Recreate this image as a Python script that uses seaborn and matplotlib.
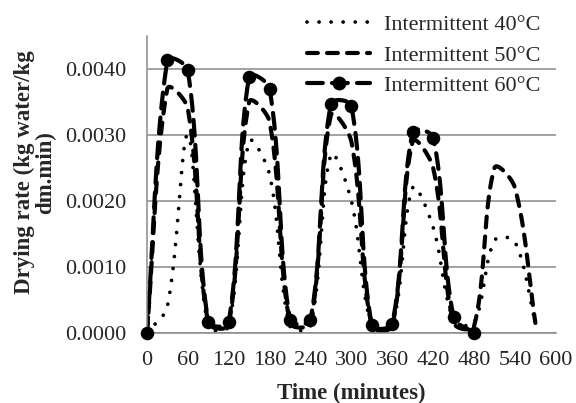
import numpy as np
import pandas as pd
import matplotlib
matplotlib.use("Agg")
import matplotlib.pyplot as plt
import seaborn as sns
from matplotlib.lines import Line2D
from matplotlib.ticker import FormatStrFormatter, MultipleLocator

# ---------------- data ----------------
time_40_50 = [0, 30, 60, 90, 120, 150, 180, 210, 240, 270, 300, 330, 360,
              390, 420, 450, 480, 510, 540, 570]
time_60 = [0, 30, 60, 90, 120, 150, 180, 210, 240, 270, 300, 330, 360,
           390, 420, 450, 480]

rate_40 = [0.0, 0.0004, 0.0030, 0.0001, 0.0001, 0.0029, 0.0024, 0.0001, 0.0001,
           0.0027, 0.0020, 0.0001, 0.0001, 0.0022, 0.0016, 0.0002, 0.00015,
           0.0014, 0.00138, 0.00015]
rate_50 = [0.0, 0.0037, 0.0034, 0.00015, 0.00012, 0.0035, 0.0032, 0.00015,
           0.00015, 0.0033, 0.0029, 0.0001, 0.0001, 0.0029, 0.0025, 0.00015,
           0.0001, 0.0025, 0.0022, 0.00015]
rate_60 = [0.0, 0.00413, 0.00398, 0.00017, 0.00016, 0.00388, 0.0037, 0.0002,
           0.0002, 0.00347, 0.00344, 0.00012, 0.00014, 0.00304, 0.00296,
           0.00024, 0.0]

labels = ["Intermittent 40°C", "Intermittent 50°C", "Intermittent 60°C"]
x_ticks = list(range(0, 601, 60))

XS, YS = 0.682, 66250.0   # approx. pixels per data unit (for smoothing shape)


def smooth(x, y, n=40, tension=1 / 3):
    """Excel-style smoothed line: Bezier through points, chord-scaled."""
    P = np.column_stack([np.asarray(x, float) * XS, np.asarray(y, float) * YS])
    Q = np.vstack([P[0], P, P[-1]])
    out = []
    m = len(P) - 1
    for i in range(m):
        p0, p1, p2, p3 = Q[i], Q[i + 1], Q[i + 2], Q[i + 3]
        d01 = np.linalg.norm(p1 - p0)
        d12 = np.linalg.norm(p2 - p1)
        d23 = np.linalg.norm(p3 - p2)
        c1 = p1 + tension * (p2 - p0) * (d12 / (d01 + d12) if d01 + d12 > 0 else 0)
        c2 = p2 - tension * (p3 - p1) * (d12 / (d12 + d23) if d12 + d23 > 0 else 0)
        t = np.linspace(0, 1, n, endpoint=(i == m - 1))[:, None]
        seg = ((1 - t) ** 3) * p1 + 3 * ((1 - t) ** 2) * t * c1 + \
            3 * (1 - t) * t ** 2 * c2 + t ** 3 * p2
        out.append(seg)
    out = np.vstack(out)
    return out[:, 0] / XS, out[:, 1] / YS


sns.set_style("white")
plt.rcParams['font.family'] = ['Liberation Serif', 'DejaVu Serif']

fig = plt.figure(figsize=(5.76, 4.03), dpi=100)
ax = fig.add_axes([0.255, 0.174, 0.71, 0.737])

grey = '#898989'
ax.set_xlim(0, 600)
ax.set_ylim(0, 0.0045)
ax.yaxis.set_major_locator(MultipleLocator(0.001))
ax.yaxis.set_major_formatter(FormatStrFormatter('%.4f'))
ax.set_xticks(x_ticks)
ax.grid(axis='y', color=grey, linewidth=1.1)
ax.grid(axis='x', visible=False)
ax.set_axisbelow(True)
for s in ['top', 'right']:
    ax.spines[s].set_visible(False)
for s in ['left', 'bottom']:
    ax.spines[s].set_color(grey)
    ax.spines[s].set_linewidth(1.1)
ax.tick_params(axis='x', direction='inout', length=8, width=1.1, color=grey,
               labelsize=16, pad=9)
ax.tick_params(axis='y', direction='out', length=4, width=1.1, color=grey,
               labelsize=16, pad=11)

dot_ls = (0, (0.01, 3.2))
dash_ls = (0, (2.6, 2.2))
long_ls = (0, (3.8, 2.2))

x40, y40 = smooth(time_40_50, rate_40)
x50, y50 = smooth(time_40_50, rate_50)
x60, y60 = smooth(time_60, rate_60)

sns.lineplot(x=x40, y=y40, ax=ax, color='black', linewidth=2.7,
             linestyle=dot_ls, dash_capstyle='round', estimator=None, sort=False)
sns.lineplot(x=x50, y=y50, ax=ax, color='black', linewidth=3.0,
             linestyle=dash_ls, dash_capstyle='round', estimator=None, sort=False)
sns.lineplot(x=x60, y=y60, ax=ax, color='black', linewidth=3.0,
             linestyle=long_ls, dash_capstyle='round', estimator=None, sort=False)
sns.scatterplot(x=time_60, y=rate_60, ax=ax, color='black', s=95,
                edgecolor='black', linewidth=0, zorder=5, clip_on=False)

ax.set_xlabel('Time (minutes)', fontsize=16.5, fontweight='bold')
ax.set_ylabel('Drying rate (kg water/kg\ndm.min)', fontsize=16.5,
              fontweight='bold', linespacing=1.0)
ax.xaxis.set_label_coords(0.5, -0.17)
ax.yaxis.set_label_coords(-0.222, 0.54)

handles = [
    Line2D([], [], color='black', linewidth=2.7, linestyle=dot_ls,
           dash_capstyle='round'),
    Line2D([], [], color='black', linewidth=3.0, linestyle=dash_ls,
           dash_capstyle='round'),
    Line2D([], [], color='black', linewidth=3.0, linestyle=long_ls,
           dash_capstyle='round', marker='o', markersize=9),
]
leg = fig.legend(handles, labels, loc='upper left',
                 bbox_to_anchor=(0.525, 0.975), frameon=False, fontsize=16,
                 handlelength=2.85, handletextpad=0.6, labelspacing=0.45,
                 borderpad=0.2, borderaxespad=0, numpoints=1)

fig.savefig('out.png', dpi=100)
